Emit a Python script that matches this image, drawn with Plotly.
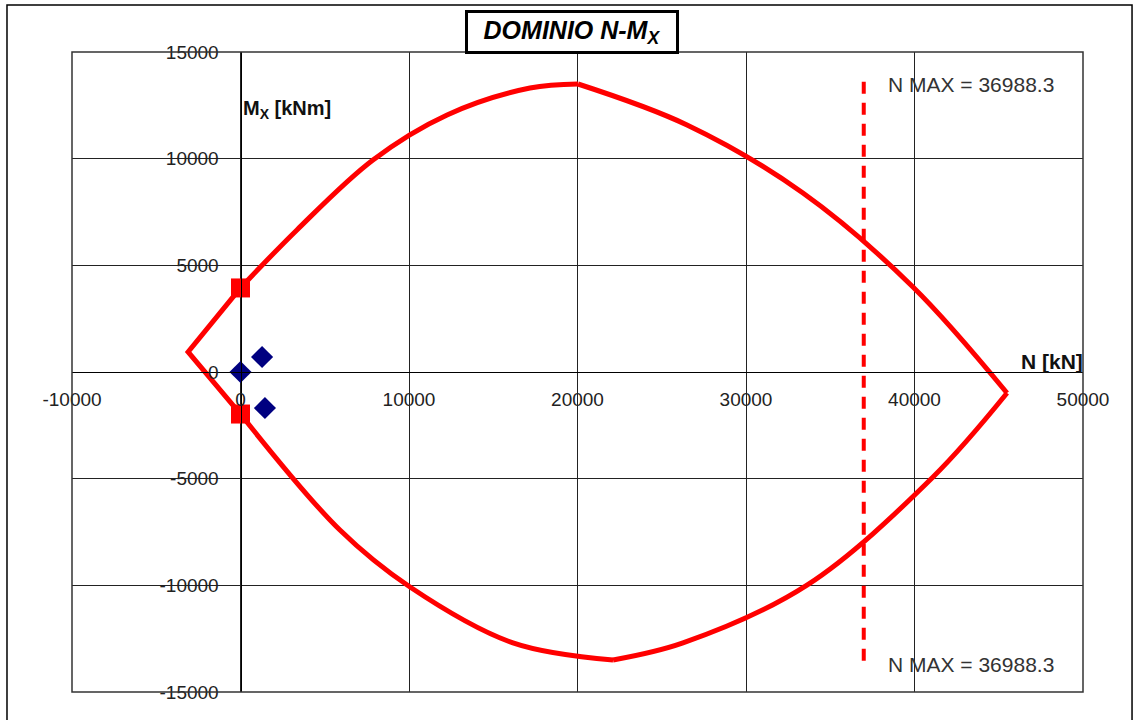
import plotly.graph_objects as go

# dominio N-Mx
N_MAX = 36988.3
nmax_m = [13600, -13600]

# arco superiore sinistro (da N=0 fino al massimo)
n_up_left = [0, 3350, 7860, 12260, 17180, 20030]
m_up_left = [3940, 6660, 9940, 12050, 13310, 13500]
# arco superiore destro (dal massimo alla compressione pura)
n_up_right = [20030, 26500, 33380, 39910, 45490]
m_up_right = [13500, 11580, 8390, 3985, -985]
# arco inferiore destro
n_low_right = [45490, 41100, 33620, 26260, 22110]
m_low_right = [-985, -4920, -9990, -12700, -13500]
# arco inferiore sinistro
n_low_left = [22110, 16170, 10060, 5900, 0]
m_low_left = [-13500, -12700, -10080, -7410, -1970]
# ramo di trazione
n_traz = [0, -3110, 0]
m_traz = [-1970, 940, 3940]

# punti a N=0
n_sq = [0, 0]
m_sq = [3940, -1970]

# sollecitazioni di progetto
n_sd = [0, 1280, 1450]
m_sd = [0, 700, -1690]

x_ticks = [-10000, 0, 10000, 20000, 30000, 40000, 50000]
y_ticks = [-15000, -10000, -5000, 0, 5000, 10000, 15000]

RED = '#ff0000'
FONT = 'Liberation Sans, Arial, sans-serif'

fig = go.Figure()
for xs, ys in [(n_up_left, m_up_left), (n_up_right, m_up_right),
               (n_low_right, m_low_right), (n_low_left, m_low_left)]:
    fig.add_trace(go.Scatter(x=xs, y=ys, mode='lines', line=dict(color=RED, width=5, shape='spline'),
                             showlegend=False, hoverinfo='skip'))
fig.add_trace(go.Scatter(x=n_traz, y=m_traz, mode='lines', line=dict(color=RED, width=5),
                         showlegend=False, hoverinfo='skip'))
fig.add_trace(go.Scatter(x=[N_MAX, N_MAX], y=nmax_m, mode='lines',
                         line=dict(color=RED, width=4, dash='12px,9px'), showlegend=False, hoverinfo='skip'))
fig.add_trace(go.Scatter(x=n_sq, y=m_sq, mode='markers',
                         marker=dict(symbol='square', size=19, color=RED), showlegend=False))
fig.add_trace(go.Scatter(x=n_sd, y=m_sd, mode='markers',
                         marker=dict(symbol='diamond', size=17, color='#000080'), showlegend=False))

fig.add_annotation(x=N_MAX, y=nmax_m[0], text=f"N MAX = {N_MAX}", showarrow=False,
                   xanchor='left', yanchor='middle', xshift=22, yshift=-3, font=dict(size=21, color='#333'))
fig.add_annotation(x=N_MAX, y=nmax_m[1], text=f"N MAX = {N_MAX}", showarrow=False,
                   xanchor='left', yanchor='middle', xshift=22, yshift=-2, font=dict(size=21, color='#333'))
fig.add_annotation(x=0, y=12300, text="<b>M<sub>X</sub> [kNm]</b>", showarrow=False,
                   xanchor='left', yanchor='middle', xshift=0, font=dict(size=20, color='#111'))
fig.add_annotation(x=50000, y=0, text="<b>N [kN]</b>", showarrow=False,
                   xanchor='right', yanchor='bottom', yshift=-3, xshift=2, font=dict(size=21, color='#111'))
fig.add_annotation(xref='paper', yref='paper', x=0.4946, y=1.032, text="<b><i>DOMINIO N-M<sub>X</sub></i></b>",
                   showarrow=False, xanchor='center', yanchor='middle', font=dict(size=25, color='#000'),
                   bgcolor='white', bordercolor='black', borderwidth=3, borderpad=3, width=202)

# cornice del grafico e bordo esterno
fig.add_shape(type='rect', xref='paper', yref='paper', x0=0, x1=1, y0=0, y1=1,
              line=dict(color='#333', width=1.5), layer='above')
fig.add_shape(type='rect', xref='paper', yref='paper', x0=-0.0643, x1=1.0485, y0=-0.1, y1=1.0734,
              line=dict(color='black', width=1.5))

fig.update_xaxes(range=[-10000, 50000], tickvals=x_ticks, ticktext=[str(v) for v in x_ticks],
                 anchor='free', position=0.5, showline=True, linecolor='black', linewidth=1,
                 showgrid=True, gridcolor='#222', gridwidth=1, zeroline=False, ticks='',
                 ticklabelstandoff=10, tickfont=dict(size=19, color='#222'))
fig.update_yaxes(range=[-15000, 15000], tickvals=y_ticks, ticktext=[str(v) for v in y_ticks],
                 anchor='free', position=1 / 6, showline=True, linecolor='black', linewidth=1,
                 showgrid=True, gridcolor='#222', gridwidth=1, zeroline=False, ticks='',
                 ticklabelstandoff=18, tickfont=dict(size=19, color='#222'))
fig.update_layout(width=1135, height=720, plot_bgcolor='white', paper_bgcolor='white',
                  margin=dict(l=72, r=52, t=52, b=28), font=dict(family=FONT), showlegend=False)
fig.write_html("out.html", config={'displayModeBar': False},
               post_script="document.body.style.margin='0';")
